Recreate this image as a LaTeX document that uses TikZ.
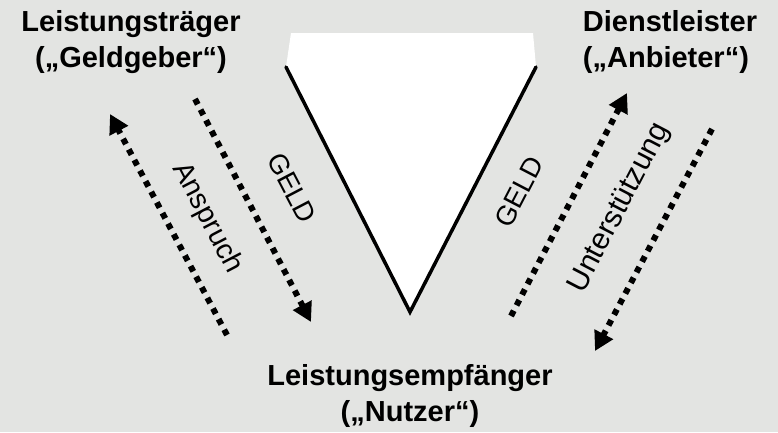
\documentclass[tikz,border=0pt]{standalone}
\usepackage{fontspec}
\setmainfont{Liberation Sans}
\usetikzlibrary{arrows.meta}
\definecolor{bg}{RGB}{227,228,226}
\begin{document}
\begin{tikzpicture}[x=1pt,y=-1pt,
  title/.style={font=\fontsize{29}{36}\selectfont\bfseries, align=center, inner sep=0pt},
  lbl/.style={font=\fontsize{28}{30}\selectfont, inner sep=0pt},
  flow/.style={line width=6pt, dash pattern=on 6pt off 6pt, -{Triangle[length=19pt,width=20pt]}},
  vline/.style={line width=3.5pt, line cap=round}]
\fill[bg] (0,0) rectangle (778,432);
\useasboundingbox (0,0) rectangle (778,432);
% V shape
\coordinate (vl) at (286,67);
\coordinate (vr) at (536,67);
\coordinate (vb) at (410,312);
\fill[white] (291,33) -- (533,33) -- (vr) -- (vb) -- (vl) -- cycle;
\draw[vline] (vl) -- (vb) -- (vr);
% titles
\node[title] (lt) at (131,42) {Leistungsträger\\(„Geldgeber“)};
\node[title, align=left] (dl) at (670,42) {Dienstleister\\(„Anbieter“)};
\node[title] (le) at (410,396) {Leistungsempfänger\\(„Nutzer“)};
% arrows
\coordinate (a1) at (227,335); \coordinate (a2) at (110,114);
\coordinate (b1) at (195,99);  \coordinate (b2) at (311,322);
\coordinate (c1) at (511,316); \coordinate (c2) at (627,93);
\coordinate (d1) at (712,129); \coordinate (d2) at (595,351);
\draw[flow] (a1) -- (a2);
\draw[flow] (b1) -- (b2);
\draw[flow] (c1) -- (c2);
\draw[flow] (d1) -- (d2);
% labels
\node[lbl, rotate=-62.4, font=\fontsize{28.5}{30}\selectfont] (ans) at (207,218) {Anspruch};
\node[lbl, rotate=-62.4, font=\fontsize{27.5}{30}\selectfont] (g1) at (292,188) {GELD};
\node[lbl, rotate=62.5, font=\fontsize{27.5}{30}\selectfont] (g2) at (519,192) {GELD};
\node[lbl, rotate=62.5, font=\fontsize{30}{32}\selectfont] (un) at (620,208) {Unterstützung};
\end{tikzpicture}
\end{document}
